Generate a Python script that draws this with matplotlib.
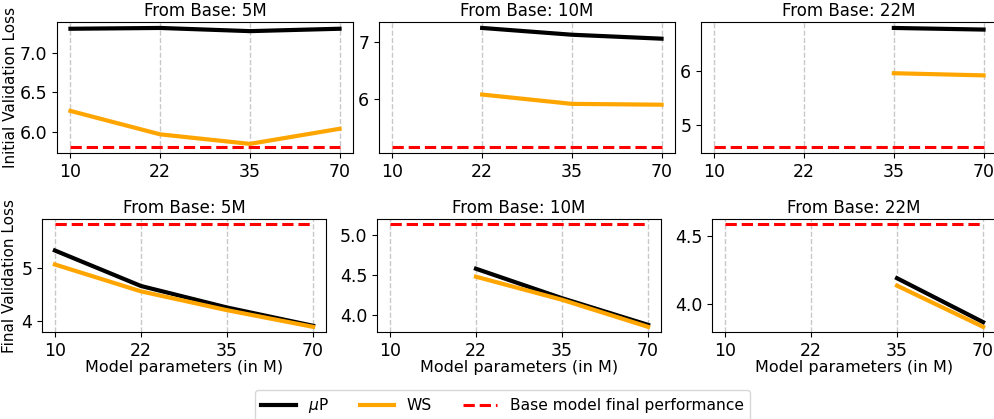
#!/usr/bin/env python3

import matplotlib
matplotlib.use("Agg")
import matplotlib.pyplot as plt
import numpy as np

params = ["10", "22", "35", "70"]
bases = ["5M", "10M", "22M"]

# initial validation loss (top row), None where no run
init_mup = [
    [7.30, 7.31, 7.27, 7.30],
    [None, 7.25, 7.13, 7.06],
    [None, None, 6.80, 6.77],
]
init_ws = [
    [6.265, 5.97, 5.85, 6.04],
    [None, 6.07, 5.905, 5.89],
    [None, None, 5.96, 5.92],
]
# final validation loss (bottom row)
final_mup = [
    [5.32, 4.66, 4.26, 3.92],
    [None, 4.58, 4.21, 3.875],
    [None, None, 4.19, 3.865],
]
final_ws = [
    [5.06, 4.56, 4.21, 3.90],
    [None, 4.48, 4.19, 3.85],
    [None, None, 4.135, 3.83],
]
base_final = [5.81, 5.14, 4.59]


def clean(vals):
    x = [i for i, v in enumerate(vals) if v is not None]
    y = [v for v in vals if v is not None]
    return x, y


def draw(ax, mup, ws, base, title):
    xm, ym = clean(mup)
    xw, yw = clean(ws)
    ax.plot(xm, ym, color="black", lw=3, label=r"$\mu$P")
    ax.plot(xw, yw, color="orange", lw=3, label="WS")
    ax.plot(range(len(params)), [base] * len(params), color="red", lw=2.2,
            ls="--", label="Base model final performance")
    ax.set_xticks(range(len(params)))
    ax.set_xticklabels(params)
    ax.grid(axis="x", ls="--", color="#c8c8c8", lw=1)
    ax.set_axisbelow(True)
    ax.tick_params(labelsize=12.5)
    ax.set_title(title, fontsize=12, pad=4)


def run():
    fig = plt.figure(figsize=(9.95, 4.19), dpi=100)
    W, H = 995, 419
    top_x = [57, 379, 701]
    bot_x = [42, 377, 712]
    axs_top = []
    axs_bot = []
    for i in range(3):
        ax = fig.add_axes([top_x[i] / W, 1 - 153 / H, 296 / W, 131 / H])
        draw(ax, init_mup[i], init_ws[i], base_final[i],
             f"From Base: {bases[i]}")
        axs_top.append(ax)
        ax = fig.add_axes([bot_x[i] / W, 1 - 332 / H, 284 / W, 113 / H])
        draw(ax, final_mup[i], final_ws[i], base_final[i],
             f"From Base: {bases[i]}")
        ax.set_xlabel("Model parameters (in M)", fontsize=11.5, labelpad=0)
        axs_bot.append(ax)

    axs_top[0].set_yticks([6.0, 6.5, 7.0])
    axs_top[1].set_yticks([6, 7])
    axs_top[2].set_yticks([5, 6])
    axs_bot[0].set_yticks([4, 5])
    axs_bot[1].set_yticks([4.0, 4.5, 5.0])
    axs_bot[2].set_yticks([4.0, 4.5])
    axs_top[0].set_ylabel("Initial Validation Loss", fontsize=11, labelpad=1)
    axs_bot[0].set_ylabel("Final Validation Loss", fontsize=11, labelpad=3)

    h, l = axs_top[0].get_legend_handles_labels()
    fig.legend(h, l, loc="upper center", bbox_to_anchor=(0.505, 1 - 390 / H),
               borderaxespad=0, ncol=3, fontsize=11.2, handlelength=2.2,
               columnspacing=2.0)
    fig.savefig("out.png", dpi=100)


if __name__ == "__main__":
    run()
